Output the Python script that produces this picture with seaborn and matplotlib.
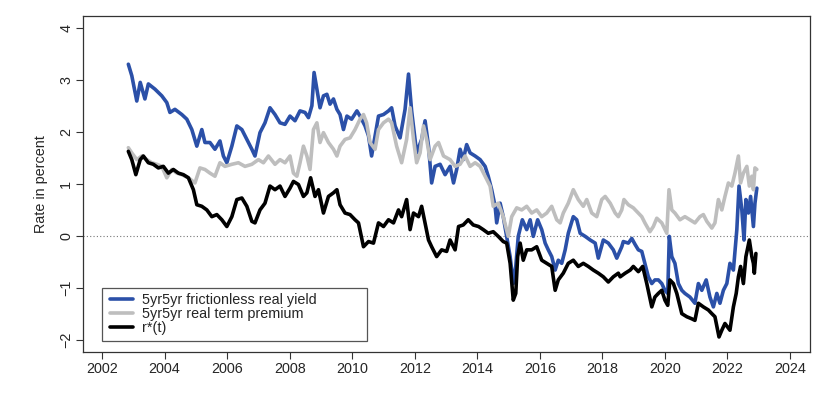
import numpy as np
import pandas as pd
import seaborn as sns
import matplotlib.pyplot as plt
from matplotlib.patches import Rectangle
from matplotlib.lines import Line2D

# values (decimal years, percent)
yield_years = [2002.84, 2002.95, 2003.11, 2003.22, 2003.37, 2003.48, 2003.69, 2003.91, 2004.07, 2004.17,
               2004.33, 2004.55, 2004.71, 2004.87, 2005.03, 2005.19, 2005.29, 2005.45, 2005.61, 2005.77,
               2005.88, 2005.99, 2006.15, 2006.31, 2006.47, 2006.63, 2006.79, 2006.89, 2007.05, 2007.21,
               2007.37, 2007.53, 2007.69, 2007.85, 2008.01, 2008.17, 2008.33, 2008.49, 2008.60, 2008.71,
               2008.78, 2008.87, 2008.97, 2009.08, 2009.19, 2009.29, 2009.40, 2009.51, 2009.61, 2009.72,
               2009.83, 2009.98, 2010.15, 2010.25, 2010.41, 2010.52, 2010.62, 2010.73, 2010.84, 2011.00,
               2011.16, 2011.26, 2011.37, 2011.53, 2011.69, 2011.80, 2011.90, 2012.06, 2012.22, 2012.33,
               2012.44, 2012.54, 2012.65, 2012.81, 2012.97, 2013.13, 2013.24, 2013.34, 2013.45, 2013.55,
               2013.66, 2013.77, 2013.93, 2014.09, 2014.25, 2014.35, 2014.46, 2014.57, 2014.62, 2014.73,
               2014.83, 2014.94, 2015.05, 2015.15, 2015.23, 2015.31, 2015.44, 2015.58, 2015.69, 2015.79,
               2015.93, 2016.06, 2016.17, 2016.27, 2016.38, 2016.49, 2016.59, 2016.70, 2016.81, 2016.91,
               2017.07, 2017.18, 2017.29, 2017.45, 2017.61, 2017.77, 2017.87, 2018.03, 2018.19, 2018.35,
               2018.46, 2018.62, 2018.67, 2018.83, 2018.94, 2019.05, 2019.15, 2019.26, 2019.36, 2019.47,
               2019.58, 2019.68, 2019.79, 2019.90, 2020.00, 2020.09, 2020.14, 2020.22, 2020.32, 2020.43,
               2020.54, 2020.64, 2020.80, 2020.96, 2021.07, 2021.18, 2021.32, 2021.44, 2021.55, 2021.66,
               2021.76, 2021.87, 2021.98, 2022.08, 2022.19, 2022.30, 2022.37, 2022.46, 2022.53, 2022.59,
               2022.67, 2022.74, 2022.83, 2022.88, 2022.94]
yield_vals = [3.31, 3.09, 2.60, 2.96, 2.64, 2.93, 2.83, 2.70, 2.57, 2.38,
              2.44, 2.34, 2.25, 2.05, 1.73, 2.05, 1.80, 1.80, 1.67, 1.83,
              1.54, 1.41, 1.73, 2.12, 2.05, 1.86, 1.67, 1.54, 1.99, 2.18,
              2.47, 2.34, 2.18, 2.15, 2.31, 2.22, 2.41, 2.38, 2.28, 2.51,
              3.15, 2.83, 2.47, 2.70, 2.73, 2.54, 2.64, 2.44, 2.34, 2.05,
              2.31, 2.25, 2.41, 2.31, 2.12, 1.93, 1.54, 1.93, 2.31, 2.34,
              2.41, 2.47, 2.12, 1.89, 2.44, 3.12, 2.41, 1.60, 1.86, 2.22,
              1.73, 1.02, 1.34, 1.38, 1.18, 1.34, 1.02, 1.28, 1.67, 1.47,
              1.76, 1.60, 1.54, 1.47, 1.34, 1.15, 0.89, 0.57, 0.25, 0.63,
              0.37, -0.01, -0.40, -0.92, -0.59, -0.01, 0.31, 0.12, 0.31, -0.01,
              0.31, 0.12, -0.14, -0.27, -0.40, -0.66, -0.47, -0.53, -0.27, 0.05,
              0.37, 0.31, 0.05, -0.01, -0.08, -0.14, -0.43, -0.08, -0.14, -0.27,
              -0.43, -0.21, -0.11, -0.14, -0.05, -0.17, -0.27, -0.30, -0.53, -0.79,
              -0.92, -0.85, -0.85, -0.92, -1.05, -1.11, -0.01, -0.40, -0.53, -0.92,
              -1.05, -1.11, -1.18, -1.30, -0.92, -1.05, -0.85, -1.18, -1.37, -1.11,
              -1.30, -1.05, -0.92, -0.53, -0.66, 0.12, 0.96, 0.50, -0.08, 0.70,
              0.44, 0.76, 0.18, 0.63, 0.92]

premium_years = [2002.84, 2002.95, 2003.11, 2003.27, 2003.43, 2003.59, 2003.75, 2003.91, 2004.07, 2004.23,
                 2004.39, 2004.55, 2004.76, 2004.97, 2005.13, 2005.29, 2005.45, 2005.61, 2005.77, 2005.93,
                 2006.15, 2006.36, 2006.57, 2006.79, 2007.00, 2007.16, 2007.32, 2007.53, 2007.69, 2007.85,
                 2008.01, 2008.12, 2008.23, 2008.33, 2008.44, 2008.55, 2008.65, 2008.76, 2008.87, 2008.97,
                 2009.08, 2009.24, 2009.40, 2009.51, 2009.61, 2009.77, 2009.93, 2010.09, 2010.25, 2010.36,
                 2010.46, 2010.57, 2010.73, 2010.84, 2011.00, 2011.16, 2011.26, 2011.42, 2011.58, 2011.74,
                 2011.85, 2011.96, 2012.06, 2012.17, 2012.28, 2012.38, 2012.49, 2012.65, 2012.76, 2012.92,
                 2013.13, 2013.29, 2013.45, 2013.61, 2013.77, 2013.93, 2014.09, 2014.25, 2014.41, 2014.51,
                 2014.67, 2014.83, 2014.99, 2015.10, 2015.26, 2015.42, 2015.58, 2015.74, 2015.90, 2016.06,
                 2016.22, 2016.38, 2016.54, 2016.65, 2016.75, 2016.91, 2017.07, 2017.23, 2017.39, 2017.50,
                 2017.66, 2017.82, 2017.98, 2018.09, 2018.25, 2018.41, 2018.51, 2018.62, 2018.69, 2018.83,
                 2018.99, 2019.15, 2019.26, 2019.36, 2019.52, 2019.63, 2019.74, 2019.90, 2020.06, 2020.13,
                 2020.22, 2020.32, 2020.48, 2020.64, 2020.80, 2020.96, 2021.12, 2021.23, 2021.34, 2021.50,
                 2021.60, 2021.71, 2021.82, 2021.92, 2022.03, 2022.14, 2022.24, 2022.35, 2022.42, 2022.51,
                 2022.62, 2022.70, 2022.78, 2022.83, 2022.88, 2022.94]
premium_vals = [1.70, 1.60, 1.47, 1.54, 1.47, 1.41, 1.38, 1.34, 1.12, 1.28,
                1.21, 1.18, 1.12, 1.02, 1.31, 1.28, 1.21, 1.15, 1.41, 1.34,
                1.38, 1.41, 1.34, 1.38, 1.47, 1.41, 1.54, 1.38, 1.47, 1.41,
                1.54, 1.21, 1.15, 1.41, 1.73, 1.54, 1.28, 2.05, 2.18, 1.80,
                1.99, 1.80, 1.67, 1.54, 1.73, 1.86, 1.89, 2.05, 2.25, 2.34,
                2.18, 1.80, 1.67, 2.05, 2.18, 2.25, 2.18, 1.73, 1.41, 1.86,
                2.47, 1.86, 1.41, 1.60, 2.12, 1.86, 1.47, 1.73, 1.80, 1.54,
                1.47, 1.34, 1.38, 1.54, 1.34, 1.41, 1.34, 1.15, 0.96, 0.57,
                0.63, 0.37, -0.01, 0.37, 0.54, 0.50, 0.57, 0.44, 0.50, 0.37,
                0.44, 0.57, 0.31, 0.25, 0.44, 0.63, 0.89, 0.70, 0.57, 0.70,
                0.44, 0.37, 0.70, 0.76, 0.63, 0.44, 0.37, 0.50, 0.70, 0.60,
                0.54, 0.44, 0.37, 0.25, 0.08, 0.18, 0.34, 0.25, 0.05, 0.89,
                0.50, 0.44, 0.31, 0.37, 0.31, 0.25, 0.37, 0.41, 0.28, 0.15,
                0.25, 0.70, 0.50, 0.76, 1.02, 0.96, 1.21, 1.54, 1.02, 1.21,
                1.34, 0.96, 1.15, 0.89, 1.31, 1.28]

rstar_years = [2002.84, 2002.95, 2003.08, 2003.22, 2003.32, 2003.48, 2003.64, 2003.80, 2003.96, 2004.12,
               2004.28, 2004.44, 2004.60, 2004.76, 2004.92, 2005.03, 2005.19, 2005.35, 2005.51, 2005.67,
               2005.83, 2005.99, 2006.15, 2006.31, 2006.47, 2006.63, 2006.79, 2006.89, 2007.05, 2007.21,
               2007.37, 2007.53, 2007.69, 2007.85, 2008.01, 2008.12, 2008.28, 2008.44, 2008.55, 2008.67,
               2008.81, 2008.92, 2009.08, 2009.24, 2009.40, 2009.51, 2009.61, 2009.77, 2009.93, 2010.09,
               2010.20, 2010.36, 2010.52, 2010.68, 2010.84, 2011.00, 2011.16, 2011.32, 2011.48, 2011.58,
               2011.74, 2011.85, 2011.96, 2012.12, 2012.22, 2012.33, 2012.44, 2012.54, 2012.70, 2012.86,
               2013.02, 2013.13, 2013.29, 2013.40, 2013.55, 2013.71, 2013.87, 2014.04, 2014.19, 2014.35,
               2014.51, 2014.67, 2014.83, 2014.94, 2015.05, 2015.15, 2015.23, 2015.29, 2015.37, 2015.47,
               2015.58, 2015.74, 2015.90, 2016.06, 2016.22, 2016.38, 2016.49, 2016.59, 2016.75, 2016.91,
               2017.07, 2017.23, 2017.39, 2017.55, 2017.71, 2017.87, 2018.03, 2018.19, 2018.35, 2018.51,
               2018.57, 2018.73, 2018.89, 2018.99, 2019.15, 2019.29, 2019.42, 2019.58, 2019.68, 2019.79,
               2019.90, 2020.00, 2020.09, 2020.16, 2020.27, 2020.38, 2020.54, 2020.70, 2020.86, 2020.96,
               2021.07, 2021.23, 2021.39, 2021.50, 2021.60, 2021.73, 2021.82, 2021.92, 2022.08, 2022.19,
               2022.28, 2022.35, 2022.42, 2022.51, 2022.59, 2022.70, 2022.78, 2022.83, 2022.86, 2022.91]
rstar_vals = [1.63, 1.47, 1.18, 1.47, 1.54, 1.41, 1.38, 1.31, 1.34, 1.21,
              1.28, 1.21, 1.18, 1.12, 0.89, 0.60, 0.57, 0.50, 0.37, 0.41,
              0.31, 0.18, 0.37, 0.70, 0.73, 0.57, 0.28, 0.25, 0.50, 0.63,
              0.96, 0.89, 0.96, 0.76, 0.92, 1.05, 0.99, 0.76, 0.83, 1.12,
              0.76, 0.89, 0.44, 0.76, 0.83, 0.89, 0.60, 0.44, 0.41, 0.31,
              0.25, -0.21, -0.11, -0.14, 0.25, 0.18, 0.31, 0.25, 0.50, 0.37,
              0.70, 0.12, 0.44, 0.37, 0.57, 0.25, -0.08, -0.21, -0.40, -0.27,
              -0.30, -0.08, -0.27, 0.18, 0.21, 0.31, 0.21, 0.18, 0.12, 0.05,
              0.08, -0.01, -0.11, -0.14, -0.53, -1.24, -1.11, -0.40, -0.14, -0.47,
              -0.27, -0.27, -0.21, -0.47, -0.53, -0.59, -1.05, -0.85, -0.72, -0.53,
              -0.47, -0.59, -0.53, -0.59, -0.66, -0.72, -0.79, -0.89, -0.79, -0.72,
              -0.79, -0.72, -0.66, -0.59, -0.69, -0.59, -0.92, -1.37, -1.18, -1.11,
              -1.05, -1.24, -1.34, -0.85, -0.92, -1.11, -1.50, -1.56, -1.60, -1.63,
              -1.30, -1.37, -1.43, -1.50, -1.56, -1.95, -1.82, -1.69, -1.82, -1.37,
              -1.11, -0.79, -0.59, -0.92, -0.40, -0.08, -0.40, -0.53, -0.72, -0.34]

labels = ["5yr5yr frictionless real yield", "5yr5yr real term premium", "r*(t)"]
colors = ["#2B50A8", "#BEBEBE", "black"]
x_ticks = list(range(2002, 2025, 2))
y_ticks = [-2, -1, 0, 1, 2, 3, 4]

sns.set_style("white")
plt.rcParams['font.family'] = ['Liberation Sans', 'DejaVu Sans']

fig = plt.figure(figsize=(8.27, 3.93), dpi=100)
ax = fig.add_axes([83/827, 41/393, 727/827, 336/393])

series = [(yield_years, yield_vals), (premium_years, premium_vals), (rstar_years, rstar_vals)]
for (xs, ys), col in zip(series, colors):
    df = pd.DataFrame({"year": xs, "rate": ys})
    sns.lineplot(data=df, x="year", y="rate", color=col, linewidth=2.6,
                 estimator=None, sort=False, ax=ax)

ax.axhline(0, color="#777777", linestyle=(0, (1, 2)), linewidth=0.8, zorder=0)

ax.set_xlim(2001.39, 2024.64)
ax.set_ylim(-2.24, 4.24)
ax.set_xticks(x_ticks)
ax.set_yticks(y_ticks)
ax.set_yticklabels([str(v).replace("-", "\u2212") for v in y_ticks], rotation=90, va="center")
ax.set_xlabel("")
ax.set_ylabel("Rate in percent", fontsize=10.4, labelpad=8)
ax.tick_params(axis="both", direction="out", length=5, width=0.8, color="#333333",
               labelsize=10.4, pad=2, left=True, bottom=True)
for sp in ax.spines.values():
    sp.set_color("#333333")
    sp.set_linewidth(0.9)

# legend box drawn like R's legend()
ax.add_patch(Rectangle((19/727, 11/336), 265/727, 53/336, transform=ax.transAxes,
                       fill=False, edgecolor="#555555", linewidth=0.9, zorder=5))
handles = [Line2D([0], [0], color=c, linewidth=2.6) for c in colors]
leg = ax.legend(handles, labels, loc="upper left", bbox_to_anchor=(27/727, 59/336),
                frameon=False, fontsize=10.4, borderpad=0, borderaxespad=0,
                handlelength=1.6, handletextpad=0.6, labelspacing=0)

fig.savefig("out.png", dpi=100)
